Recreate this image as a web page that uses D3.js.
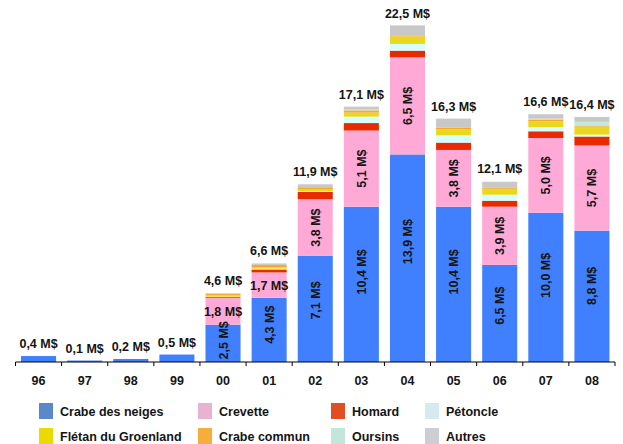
<!DOCTYPE html>
<html lang="fr">
  <head>
    <meta charset="UTF-8" />
    <title>Valeur des débarquements</title>
    <script src="https://d3js.org/d3.v7.min.js"></script>
    <style>
      body {
        margin: 0;
        background: #fff;
        font-family: "Liberation Sans", Arial, sans-serif;
      }
      text {
        font-weight: bold;
        fill: #141414;
      }
    </style>
  </head>
  <body>
    <div id="chart"></div>
    <script>
      // Data (M$)
      const years = ["96", "97", "98", "99", "00", "01", "02", "03", "04", "05", "06", "07", "08"];
      const species = ["Crabe des neiges", "Crevette", "Homard", "Pétoncle", "Flétan du Groenland", "Crabe commun", "Oursins", "Autres"];
      const crabeNeiges = [0.4, 0.1, 0.2, 0.5, 2.5, 4.3, 7.1, 10.4, 13.9, 10.4, 6.5, 10.0, 8.8];
      const crevette = [0, 0, 0, 0, 1.8, 1.7, 3.8, 5.1, 6.5, 3.8, 3.9, 5.0, 5.7];
      const homard = [0, 0, 0, 0, 0.05, 0.2, 0.5, 0.5, 0.45, 0.49, 0.4, 0.45, 0.6];
      const petoncle = [0, 0, 0, 0, 0.02, 0.05, 0.05, 0.43, 0.45, 0.49, 0.4, 0.27, 0.13];
      const fletan = [0, 0, 0, 0, 0.08, 0.1, 0.1, 0.27, 0.5, 0.4, 0.4, 0.4, 0.47];
      const crabeCommun = [0, 0, 0, 0, 0.1, 0.15, 0.15, 0.15, 0.07, 0.1, 0.09, 0.12, 0.09];
      const oursins = [0, 0, 0, 0, 0, 0, 0, 0.05, 0, 0, 0, 0.05, 0.29];
      const autres = [0, 0, 0, 0, 0.05, 0.1, 0.2, 0.2, 0.67, 0.62, 0.38, 0.3, 0.33];
      const totals = ["0,4 M$", "0,1 M$", "0,2 M$", "0,5 M$", "4,6 M$", "6,6 M$", "11,9 M$", "17,1 M$", "22,5 M$", "16,3 M$", "12,1 M$", "16,6 M$", "16,4 M$"];
      const totalValues = [0.4, 0.1, 0.2, 0.5, 4.6, 6.6, 11.9, 17.1, 22.5, 16.3, 12.1, 16.6, 16.4];

      const series = [crabeNeiges, crevette, homard, petoncle, fletan, crabeCommun, oursins, autres];
      const barColors = ["#4080ff", "#ffaad6", "#e82a00", "#d8ffff", "#e8d81e", "#f8a825", "#c6e8d8", "#c8c8c8"];
      const legendColors = ["#5b88c8", "#e8b3d0", "#e24e24", "#d5e9ef", "#e9da00", "#f5ae3a", "#c3e6da", "#cdced3"];

      const W = 623, H = 444;
      const x0 = 15.5, x1 = 615, baseY = 362;

      const svg = d3.select("#chart").append("svg").attr("width", W).attr("height", H);

      const x = d3.scaleBand().domain(years).range([x0, x1]).padding(0);
      const y = d3.scaleLinear().domain([0, 22.5]).range([baseY, 26]);
      const barW = x.bandwidth() * 0.76;

      const table = years.map((yr, i) => {
        const row = { year: yr };
        species.forEach((s, k) => (row[s] = series[k][i]));
        return row;
      });
      const stacked = d3.stack().keys(species)(table);

      const fmt = (v) => v.toFixed(1).replace(".", ",") + " M$";

      stacked.forEach((layer, k) => {
        svg
          .append("g")
          .selectAll("rect")
          .data(layer)
          .join("rect")
          .attr("x", (d) => x(d.data.year) + (x.bandwidth() - barW) / 2)
          .attr("width", barW)
          .attr("y", (d) => y(d[1]))
          .attr("height", (d) => Math.max(0, y(d[0]) - y(d[1])))
          .attr("fill", barColors[k]);
      });

      // segment labels (crabe des neiges + crevette)
      [0, 1].forEach((k) => {
        stacked[k].forEach((d, i) => {
          const v = series[k][i];
          if (i < 4 || v === 0) return;
          const cx = x(d.data.year) + x.bandwidth() / 2;
          const h = y(d[0]) - y(d[1]);
          // blue labels sit a little above the middle of their segment
          const cy = (y(d[0]) + y(d[1])) / 2 - (k === 0 ? h * 0.08 : 0);
          const horizontal = k === 1 && (years[i] === "00" || years[i] === "01");
          if (horizontal) {
            svg
              .append("text")
              .attr("x", cx)
              .attr("y", cy + 4.5)
              .attr("text-anchor", "middle")
              .attr("font-size", 12.5)
              .text(fmt(v));
          } else {
            svg
              .append("text")
              .attr("transform", `translate(${cx + 4.5},${cy}) rotate(-90)`)
              .attr("text-anchor", "middle")
              .attr("font-size", 12.5)
              .text(fmt(v));
          }
        });
      });

      // totals
      svg
        .append("g")
        .selectAll("text")
        .data(years)
        .join("text")
        .attr("x", (d) => x(d) + x.bandwidth() / 2)
        .attr("y", (d, i) => y(totalValues[i]) - 8)
        .attr("text-anchor", "middle")
        .attr("font-size", 12.5)
        .text((d, i) => totals[i]);

      // x axis
      const axis = svg
        .append("g")
        .attr("transform", `translate(0,${baseY})`)
        .call(d3.axisBottom(x).tickSize(0).tickPadding(0));
      axis.select(".domain").attr("stroke", "#000").attr("stroke-width", 1.2).attr("d", `M${x0},0H${x1}`);
      axis.selectAll(".tick text")
        .attr("dy", 23)
        .attr("font-size", 12.5)
        .attr("font-weight", "bold")
        .attr("font-family", "'Liberation Sans', Arial, sans-serif")
        .attr("fill", "#141414");
      axis
        .selectAll(".sep")
        .data(d3.range(years.length + 1))
        .join("line")
        .attr("x1", (i) => x0 + i * x.step())
        .attr("x2", (i) => x0 + i * x.step())
        .attr("y1", 0)
        .attr("y2", 4)
        .attr("stroke", "#000");

      // legend
      const colX = [39, 198, 331, 425];
      const rowY = [403, 428];
      const legend = svg.append("g");
      species.forEach((s, k) => {
        const cx = colX[k % 4], cy = rowY[Math.floor(k / 4)];
        legend.append("rect").attr("x", cx).attr("y", cy).attr("width", 14).attr("height", 16).attr("fill", legendColors[k]);
        legend
          .append("text")
          .attr("x", cx + 21)
          .attr("y", cy + 13)
          .attr("font-size", 12.5)
          .text(s);
      });
    </script>
  </body>
</html>
